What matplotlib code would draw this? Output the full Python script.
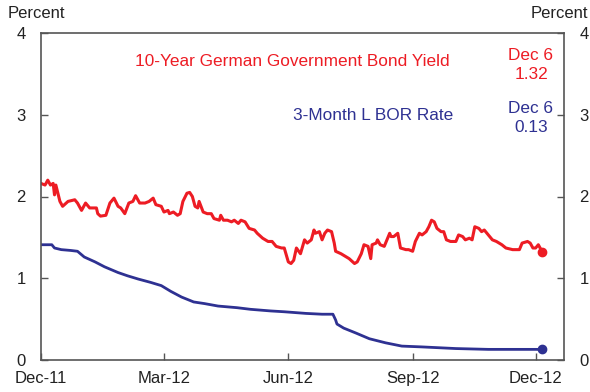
"""
10-Year German Bund yield vs 3-Month LIBOR, Dec-11 to Dec-12
"""

import datetime as dt
import matplotlib
matplotlib.use('Agg')
import matplotlib.pyplot as plt

##########################
# Data
##########################

start = dt.date(2011, 12, 1)

# days after 1 Dec 2011, percent
bund_days = [0, 3, 5, 7, 9, 10, 11, 14, 16, 20, 25, 27, 30, 33, 36, 41, 42, 44, 48, 51,
             54, 57, 59, 62, 65, 68, 70, 73, 77, 80, 83, 85, 89, 91, 94, 95, 98, 101, 103, 105,
             108, 110, 112, 114, 116, 117, 120, 123, 126, 128, 132, 133, 135, 138, 141, 143, 146, 148, 151, 154,
             158, 160, 164, 168, 171, 174, 178, 180, 183, 185, 187, 189, 192, 195, 197, 200, 202, 203, 206, 208,
             210, 212, 215, 217, 218, 222, 224, 228, 232, 234, 237, 239, 242, 244, 245, 248, 249, 251, 254, 258,
             259, 261, 264, 266, 270, 272, 275, 277, 280, 282, 285, 287, 289, 291, 293, 296, 298, 300, 303, 307,
             309, 312, 314, 317, 319, 321, 324, 326, 328, 331, 334, 337, 341, 344, 349, 354, 356, 360, 362, 364,
             366, 368, 370, 371]
bund = [2.16, 2.14, 2.20, 2.14, 2.16, 2.02, 2.14, 1.94, 1.88, 1.94, 1.96, 1.92, 1.83, 1.92, 1.86, 1.86, 1.79, 1.76, 1.77, 1.92,
        1.98, 1.88, 1.86, 1.79, 1.92, 1.94, 2.01, 1.92, 1.92, 1.94, 1.98, 1.90, 1.88, 1.81, 1.83, 1.79, 1.81, 1.77, 1.79, 1.94,
        2.04, 2.05, 2.00, 1.88, 1.86, 1.94, 1.81, 1.79, 1.79, 1.73, 1.71, 1.77, 1.71, 1.71, 1.69, 1.71, 1.67, 1.71, 1.69, 1.61,
        1.59, 1.55, 1.49, 1.45, 1.45, 1.39, 1.37, 1.37, 1.20, 1.18, 1.22, 1.37, 1.30, 1.47, 1.43, 1.47, 1.59, 1.55, 1.57, 1.47,
        1.55, 1.59, 1.57, 1.43, 1.33, 1.30, 1.28, 1.24, 1.18, 1.20, 1.30, 1.41, 1.39, 1.24, 1.41, 1.43, 1.47, 1.41, 1.39, 1.55,
        1.51, 1.51, 1.55, 1.37, 1.35, 1.35, 1.33, 1.45, 1.55, 1.53, 1.57, 1.63, 1.71, 1.69, 1.61, 1.57, 1.57, 1.47, 1.45, 1.45,
        1.53, 1.51, 1.47, 1.49, 1.47, 1.63, 1.61, 1.57, 1.59, 1.53, 1.47, 1.45, 1.41, 1.37, 1.35, 1.35, 1.43, 1.45, 1.43, 1.37,
        1.37, 1.41, 1.35, 1.32]

libor_days = [0, 8, 10, 15, 22, 27, 32, 40, 47, 57, 64, 72, 81, 89, 96, 104, 113, 121, 131, 145,
              155, 170, 180, 188, 196, 208, 216, 218, 219, 224, 233, 243, 255, 267, 282, 307, 331, 356, 371]
libor = [1.41, 1.41, 1.37, 1.35, 1.34, 1.33, 1.26, 1.20, 1.14, 1.07, 1.03, 0.99, 0.95, 0.91, 0.84, 0.77, 0.71, 0.69, 0.66, 0.64,
         0.62, 0.60, 0.59, 0.58, 0.57, 0.56, 0.56, 0.49, 0.44, 0.39, 0.33, 0.26, 0.21, 0.17, 0.16, 0.14, 0.13, 0.13, 0.13]

tick_labels = ['Dec-11', 'Mar-12', 'Jun-12', 'Sep-12', 'Dec-12']
tick_dates = [dt.date(2011, 12, 1), dt.date(2012, 3, 1), dt.date(2012, 6, 1),
              dt.date(2012, 9, 1), dt.date(2012, 12, 1)]

bund_dates = [start + dt.timedelta(days=d) for d in bund_days]
libor_dates = [start + dt.timedelta(days=d) for d in libor_days]

#################################
# Plot
#################################

plt.rcParams['font.family'] = ['Liberation Sans', 'DejaVu Sans']

red = '#ed1c24'
blue = '#2e3192'
grey = '#555555'
W, H = 590, 392

fig = plt.figure(figsize=(5.9, 3.92), dpi=100)
ax = fig.add_axes([41 / W, 32 / H, 523 / W, 327 / H])

ax.plot(bund_dates, bund, color=red, lw=2.2)
ax.plot(libor_dates, libor, color=blue, lw=2.0)
ax.plot(bund_dates[-1], bund[-1], 'o', color=red, ms=6)
ax.plot(libor_dates[-1], libor[-1], 'o', color=blue, ms=6)

ax.set_xlim(start, dt.date(2012, 12, 22))
ax.set_ylim(0, 4)
ax.set_xticks(tick_dates)
ax.set_xticklabels(tick_labels)
ax.set_yticks([0, 1, 2, 3, 4])

for s in ax.spines.values():
    s.set_color(grey)
    s.set_linewidth(1.2)

ax.tick_params(axis='both', direction='in', length=5, width=1, color=grey,
               labelsize=12, labelcolor='#222222')
ax.tick_params(axis='y', right=True, labelright=True, pad=11)
ax.tick_params(axis='x', pad=8)

# labels placed in figure pixel positions
fig.text(8 / W, 1 - 14 / H, 'Percent', fontsize=12, color='#222222', va='center', ha='left')
fig.text(588 / W, 1 - 14 / H, 'Percent', fontsize=12, color='#222222', va='center', ha='right')

fig.text(292 / W, 1 - 61 / H, '10-Year German Government Bond Yield', color=red,
         fontsize=12.4, ha='center', va='center')
fig.text(453 / W, 1 - 116 / H, '3-Month L BOR Rate', color=blue,
         fontsize=12.4, ha='right', va='center')
fig.text(531 / W, 1 - 65 / H, 'Dec 6\n1.32', color=red, fontsize=12.4,
         ha='center', va='center', linespacing=1.3)
fig.text(531 / W, 1 - 118 / H, 'Dec 6\n0.13', color=blue, fontsize=12.4,
         ha='center', va='center', linespacing=1.3)

plt.savefig('out.png', dpi=100)
